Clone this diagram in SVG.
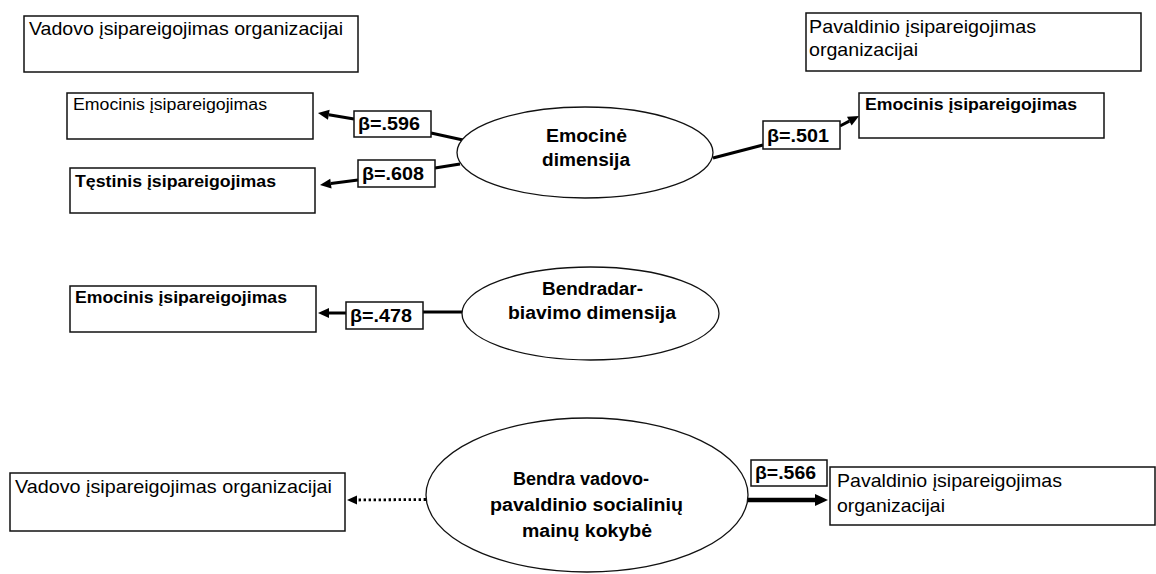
<svg xmlns="http://www.w3.org/2000/svg" width="1156" height="574" viewBox="0 0 1156 574">
  <style>
    .box { fill: #fff; stroke: #111; stroke-width: 1.5; }
    .oval { fill: #fff; stroke: #111; stroke-width: 1.3; }
    .beta { fill: #fff; stroke: #111; stroke-width: 1.5; }
    .t { font-family: "Liberation Sans", Arial, sans-serif; fill: #000; }
    .n18 { font-size: 18.5px; }
    .n15 { font-size: 16px; }
    .b16 { font-size: 16.5px; font-weight: bold; }
    .b17 { font-size: 18px; font-weight: bold; }
    .mid { text-anchor: middle; }
    .link { stroke: #000; stroke-width: 3; fill: none; }
    .thick { stroke: #000; stroke-width: 4.5; fill: none; }
    .dots { stroke: #000; stroke-width: 2.8; stroke-dasharray: 2.4 2.6; fill: none; }
  </style>
  <defs>
    <marker id="head" markerUnits="userSpaceOnUse" markerWidth="12" markerHeight="10" refX="0" refY="5" orient="auto" overflow="visible">
      <path d="M0,0 L11,5 L0,10 z" fill="#000"/>
    </marker>
    <marker id="headSmall" markerUnits="userSpaceOnUse" markerWidth="10" markerHeight="9" refX="0" refY="4.5" orient="auto" overflow="visible">
      <path d="M0,0 L10,4.5 L0,9 z" fill="#000"/>
    </marker>
    <marker id="headBig" markerUnits="userSpaceOnUse" markerWidth="14" markerHeight="12" refX="0" refY="6" orient="auto" overflow="visible">
      <path d="M0,0 L13,6 L0,12 z" fill="#000"/>
    </marker>
  </defs>

  <!-- connectors -->
  <g id="connectors">
    <line class="link" x1="431" y1="133" x2="463" y2="140"/>
    <line class="link" x1="354" y1="119" x2="328.8" y2="114.8" marker-end="url(#head)"/>
    <line class="link" x1="435" y1="168" x2="460" y2="164"/>
    <line class="link" x1="358" y1="180" x2="330.9" y2="183.6" marker-end="url(#head)"/>
    <line class="link" x1="713" y1="158" x2="763" y2="145"/>
    <line class="link" x1="840" y1="126" x2="849.3" y2="121.1" marker-end="url(#head)"/>
    <line class="link" x1="423" y1="312" x2="462" y2="312"/>
    <line class="link" x1="346" y1="313" x2="329" y2="313" marker-end="url(#head)"/>
    <line class="dots" x1="426" y1="499.5" x2="357" y2="500" marker-end="url(#headSmall)"/>
    <line class="thick" x1="745" y1="500" x2="815" y2="500" marker-end="url(#headBig)"/>
  </g>

  <!-- coefficient labels -->
  <g id="beta-596">
    <rect class="beta" x="354" y="111" width="77" height="26"/>
    <text class="t b17" x="358" y="130" textLength="62" lengthAdjust="spacingAndGlyphs">β=.596</text>
  </g>
  <g id="beta-608">
    <rect class="beta" x="358" y="160" width="77" height="27"/>
    <text class="t b17" x="362" y="180" textLength="62" lengthAdjust="spacingAndGlyphs">β=.608</text>
  </g>
  <g id="beta-501">
    <rect class="beta" x="763" y="121" width="77" height="28"/>
    <text class="t b17" x="767" y="142" textLength="62" lengthAdjust="spacingAndGlyphs">β=.501</text>
  </g>
  <g id="beta-478">
    <rect class="beta" x="346" y="302" width="77" height="27"/>
    <text class="t b17" x="350" y="322" textLength="62" lengthAdjust="spacingAndGlyphs">β=.478</text>
  </g>
  <g id="beta-566">
    <rect class="beta" x="751" y="460" width="76" height="26"/>
    <text class="t b17" x="755" y="479" textLength="61" lengthAdjust="spacingAndGlyphs">β=.566</text>
  </g>

  <!-- headings -->
  <g id="leader-commitment">
    <rect class="box" x="24" y="16" width="334" height="56"/>
    <text class="t n18" x="29" y="35" textLength="314" lengthAdjust="spacingAndGlyphs">Vadovo įsipareigojimas organizacijai</text>
  </g>
  <g id="subordinate-commitment">
    <rect class="box" x="806" y="13" width="335" height="58"/>
    <text class="t n18" x="809" y="33" textLength="227" lengthAdjust="spacingAndGlyphs">Pavaldinio įsipareigojimas</text>
    <text class="t n18" x="809" y="56" textLength="109" lengthAdjust="spacingAndGlyphs">organizacijai</text>
  </g>

  <!-- outcome boxes -->
  <g id="affective-left">
    <rect class="box" x="67" y="93" width="246" height="46"/>
    <text class="t n15" x="73" y="110" textLength="194" lengthAdjust="spacingAndGlyphs">Emocinis įsipareigojimas</text>
  </g>
  <g id="continuance-left">
    <rect class="box" x="70" y="168" width="245" height="45"/>
    <text class="t b16" x="75" y="187" textLength="201" lengthAdjust="spacingAndGlyphs">Tęstinis įsipareigojimas</text>
  </g>
  <g id="affective-right">
    <rect class="box" x="859" y="93" width="245" height="45"/>
    <text class="t b16" x="865" y="110" textLength="212" lengthAdjust="spacingAndGlyphs">Emocinis įsipareigojimas</text>
  </g>
  <g id="affective-middle">
    <rect class="box" x="70" y="286" width="246" height="46"/>
    <text class="t b16" x="75" y="303" textLength="212" lengthAdjust="spacingAndGlyphs">Emocinis įsipareigojimas</text>
  </g>
  <g id="leader-commitment-bottom">
    <rect class="box" x="10" y="473" width="335" height="58"/>
    <text class="t n18" x="15" y="493" textLength="317" lengthAdjust="spacingAndGlyphs">Vadovo įsipareigojimas organizacijai</text>
  </g>
  <g id="subordinate-commitment-bottom">
    <rect class="box" x="830" y="467" width="325" height="58"/>
    <text class="t n18" x="837" y="487" textLength="225" lengthAdjust="spacingAndGlyphs">Pavaldinio įsipareigojimas</text>
    <text class="t n18" x="837" y="512" textLength="108" lengthAdjust="spacingAndGlyphs">organizacijai</text>
  </g>

  <!-- dimensions -->
  <g id="emotional-dimension">
    <ellipse class="oval" cx="585" cy="152.5" rx="128" ry="45.5"/>
    <text class="t b17 mid" x="586.5" y="142" textLength="81" lengthAdjust="spacingAndGlyphs">Emocinė</text>
    <text class="t b17 mid" x="586" y="166" textLength="88" lengthAdjust="spacingAndGlyphs">dimensija</text>
  </g>
  <g id="cooperation-dimension">
    <ellipse class="oval" cx="590.5" cy="313.5" rx="128.5" ry="46.5"/>
    <text class="t b17 mid" x="592.5" y="295" textLength="101" lengthAdjust="spacingAndGlyphs">Bendradar-</text>
    <text class="t b17 mid" x="592" y="319" textLength="168" lengthAdjust="spacingAndGlyphs">biavimo dimensija</text>
  </g>
  <g id="exchange-quality">
    <ellipse class="oval" cx="587" cy="495" rx="161" ry="77"/>
    <text class="t b17 mid" x="581" y="485" textLength="136" lengthAdjust="spacingAndGlyphs">Bendra vadovo-</text>
    <text class="t b17 mid" x="586.5" y="511" textLength="193" lengthAdjust="spacingAndGlyphs">pavaldinio socialinių</text>
    <text class="t b17 mid" x="587" y="537" textLength="130" lengthAdjust="spacingAndGlyphs">mainų kokybė</text>
  </g>
</svg>
